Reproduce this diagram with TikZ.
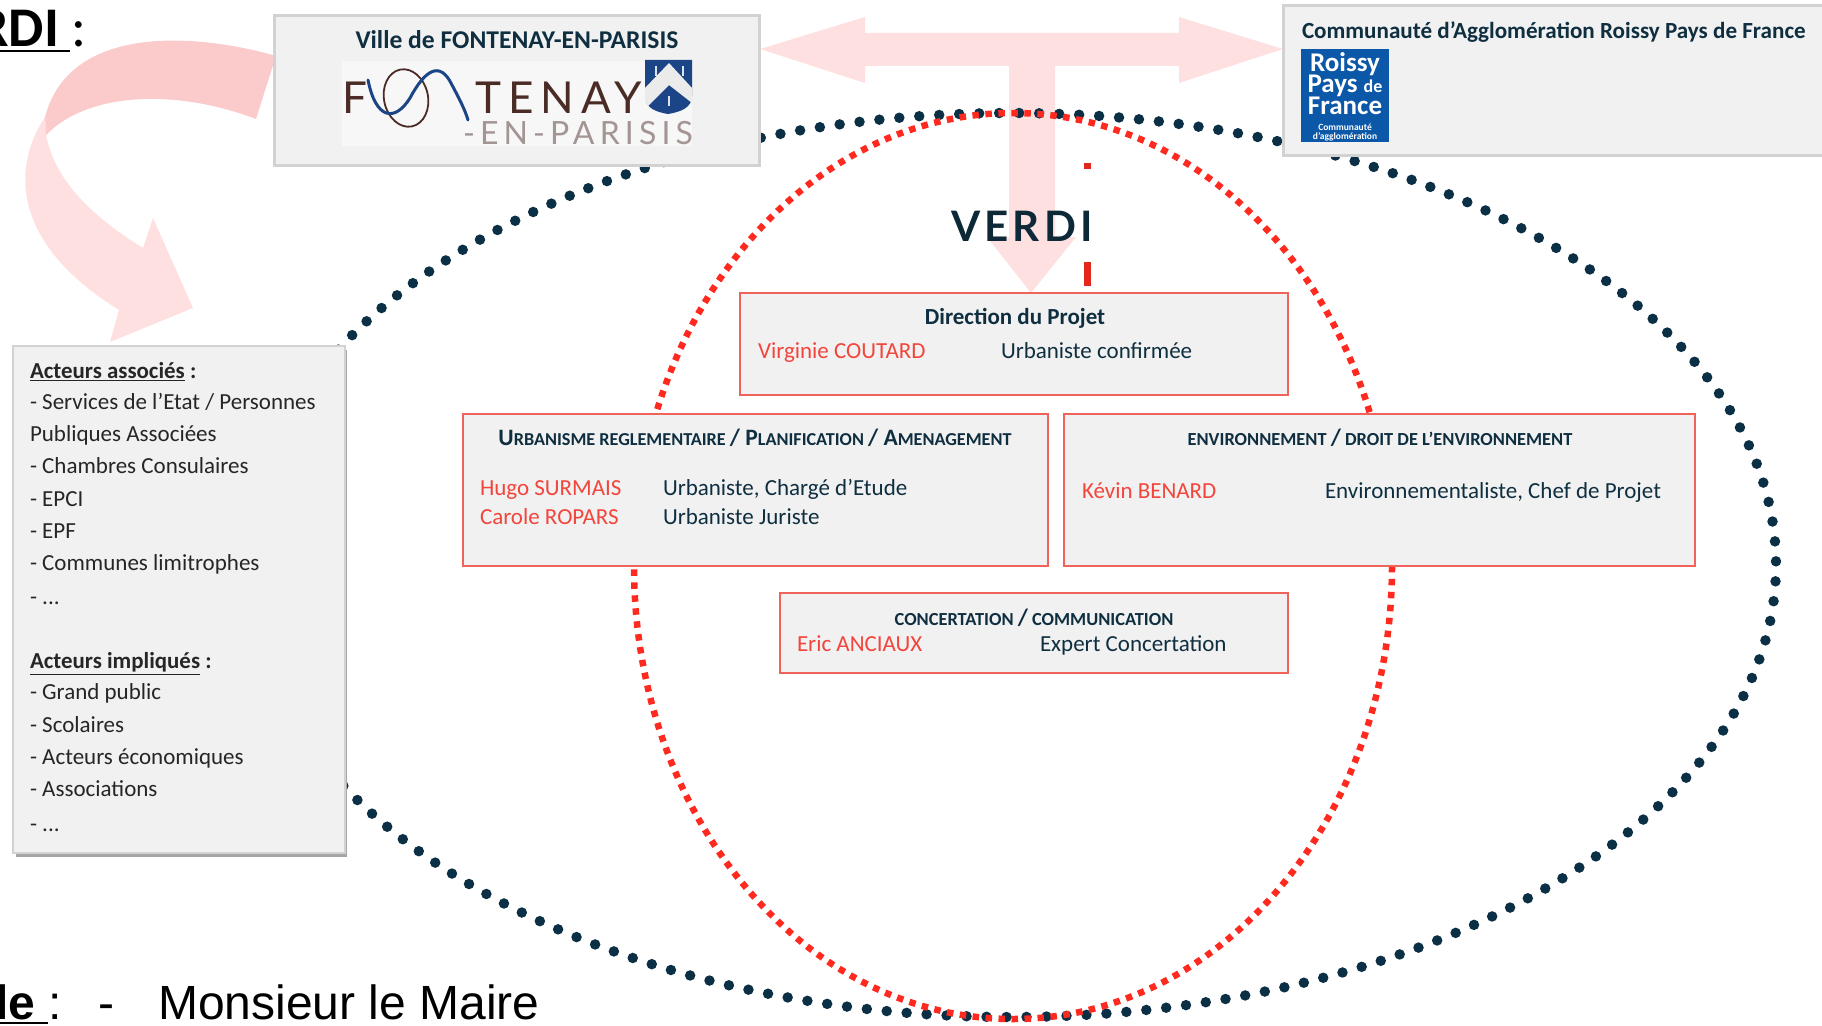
\documentclass[tikz,border=0pt]{standalone}
\usepackage{fontspec}
\setmainfont{Carlito}
\newfontfamily\arialf{Liberation Sans}
\newfontfamily\latof{Lato}
\newfontfamily\logof[LetterSpace=16]{Lato}
\newfontfamily\verdif[LetterSpace=10]{Lato}
\usetikzlibrary{calc}
\definecolor{inkdark}{HTML}{0F2F40}
\definecolor{dotdark}{HTML}{0B2F45}
\definecolor{redtxt}{HTML}{F2453C}
\definecolor{redline}{HTML}{F0635A}
\definecolor{reddash}{HTML}{FF2A1F}
\definecolor{pinkA}{HTML}{FFE0E0}
\definecolor{pinkB}{HTML}{FBCACA}
\definecolor{boxfill}{HTML}{F1F1F1}
\definecolor{boxline}{HTML}{D2D2D2}
\definecolor{logobrown}{HTML}{4A2B26}
\definecolor{logogrey}{HTML}{A39593}
\definecolor{logoblue}{HTML}{1B4586}
\definecolor{rblue}{HTML}{0B57A8}
\newcommand{\fs}[1]{\fontsize{#1}{#1}\selectfont}
\tikzset{
  t/.style={inner sep=0pt,outer sep=0pt,anchor=mid west,yshift=-5.5pt,font=\fs{23},text=inkdark},
  tc/.style={t,anchor=mid},
  nm/.style={t,text=redtxt},
  ac/.style={t,text=black!85,font=\fs{23}},
  redbox/.style={draw=redline,fill=boxfill,line width=2pt},
  greybox/.style={draw=boxline,fill=boxfill,line width=3pt},
}
\begin{document}
\begin{tikzpicture}[x=1pt,y=-1pt]
\useasboundingbox (0,0) rectangle (1822,1025);
\clip (0,0) rectangle (1822,1025);
% curved arrow
\fill[pinkA] (45,117) .. controls (10,170) and (14,245) .. (119,310) -- (110,342) -- (193,308) -- (153,218) -- (143,248) .. controls (90,215) and (55,180) .. (46,135) -- cycle;
\fill[pinkB] (276,56) .. controls (200,34) and (70,22) .. (45,117) -- (46,135) .. controls (90,90) and (180,90) .. (256,119) -- cycle;
% T arrow
\fill[pinkA] (760,49) -- (865,17) -- (865,33) -- (1179,33) -- (1179,17) -- (1283,49) -- (1179,83) -- (1179,66) -- (1055,66) -- (1055,237) -- (1076,237) -- (1031,293) -- (987,237) -- (1009,237) -- (1009,66) -- (865,66) -- (865,83) -- cycle;
% ellipses
\draw[dotdark,line width=10.5pt,line cap=round,dash pattern=on 0pt off 20pt] (246,565) arc [start angle=180,end angle=-180,x radius=765pt,y radius=452pt];
\draw[reddash,line width=6.5pt,dash pattern=on 6.5pt off 6.5pt] (1013,566) ellipse [x radius=379pt,y radius=453pt];
% VERDI
\node[tc,font=\verdif\bfseries\fs{42},text=inkdark!85!black] (verdi) at (1022,233.5) {VERDI};
\fill[reddash!90!black] (1083.5,163) rectangle (1090.5,169);
\fill[reddash!90!black] (1083.5,262) rectangle (1090.5,286);
% top boxes
\draw[greybox] (274,16) rectangle (759,165);
\node[tc,font=\bfseries\fs{25.6}] (ville) at (517,41) {Ville de FONTENAY-EN-PARISIS};
\fill[black!3] (342,61) rectangle (692,146);
% Fontenay logo
\node[t,font=\logof\fs{44},text=logobrown] (logoF) at (342,106) {F};
\draw[logobrown,line width=1.8pt,rotate around={12:(406,98)}] (406,98) ellipse [x radius=22pt,y radius=29pt];
\draw[logoblue,line width=3pt,line cap=round] (368,80) .. controls (376,120) and (395,122) .. (410,98) .. controls (425,70) and (440,60) .. (452,85) .. controls (460,100) and (465,110) .. (468,120);
\node[t,font=\logof\fs{44},text=logobrown] (logoT) at (475,106) {TENAY};
\node[t,font=\logof\fs{32},text=logogrey] (logoP) at (463,137) {-EN-PARISIS};
\fill[logoblue] (645,60) -- (692,60) -- (692,96) .. controls (692,108) and (680,112) .. (668,114) .. controls (656,112) and (645,108) .. (645,96) -- cycle;
\fill[white!92!black] (669,63) -- (692,88) -- (692,103) -- (669,85) -- (648,106) -- (645,100) -- (645,88) -- cycle;
\fill[white!85!logoblue] (655,66) rectangle (657,76);
\fill[white!85!logoblue] (682,66) rectangle (684,76);
\fill[white!85!logoblue] (668,96) rectangle (670,106);
% Communaute box
\draw[greybox] (1283,6) rectangle (1835,155);
\node[t,font=\bfseries\fs{23.1}] (cara) at (1302,31) {Communauté d’Agglomération Roissy Pays de France};
\fill[rblue] (1301,49) rectangle (1389,142);
\node[t,anchor=mid,text=white,font=\bfseries\fs{27}] (r1) at (1345,64) {Roissy};
\node[t,anchor=mid,text=white,font=\bfseries\fs{27}] (r2) at (1345,85) {Pays {\fs{18}de}};
\node[t,anchor=mid,text=white,font=\bfseries\fs{27}] (r3) at (1345,107) {France};
\node[t,anchor=mid,text=white,font=\bfseries\fs{9.5}] (r4) at (1345,123) {Communauté};
\node[t,anchor=mid,text=white,font=\bfseries\fs{9.5}] (r5) at (1345,132) {d’agglomération};
% Direction
\draw[redbox] (740,293) rectangle (1288,395);
\node[tc,font=\bfseries\fs{23}] (dir) at (1015,317) {Direction du Projet};
\node[nm] (virg) at (758,351) {Virginie COUTARD};
\node[t] (virgr) at (1001,351) {Urbaniste confirmée};
% Urbanisme
\draw[redbox] (463,414) rectangle (1048,566);
\node[tc,font=\bfseries\fs{18.2}] (urb) at (755,438) {{\fs{23.5}U}RBANISME REGLEMENTAIRE {\fs{23.5}/ P}LANIFICATION {\fs{23.5}/ A}MENAGEMENT};
\node[nm] (hugo) at (480,488) {Hugo SURMAIS};
\node[t] (hugor) at (663,488) {Urbaniste, Chargé d’Etude};
\node[nm] (carole) at (480,517) {Carole ROPARS};
\node[t] (caroler) at (663,517) {Urbaniste Juriste};
% Environnement
\draw[redbox] (1064,414) rectangle (1695,566);
\node[tc,font=\bfseries\fs{18.4}] (env) at (1380,438) {ENVIRONNEMENT {\fs{23.5}/} DROIT DE L’ENVIRONNEMENT};
\node[nm] (kevin) at (1082,491) {Kévin BENARD};
\node[t] (kevinr) at (1325,491) {Environnementaliste, Chef de Projet};
% Concertation
\draw[redbox] (780,593) rectangle (1288,673);
\node[tc,font=\bfseries\fs{18.4}] (conc) at (1034,618) {CONCERTATION {\fs{23.5}/} COMMUNICATION};
\node[nm] (eric) at (797,644) {Eric ANCIAUX};
\node[t] (ericr) at (1040,644) {Expert Concertation};
% Acteurs
\fill[black!35] (16,350) rectangle (347,857);
\draw[boxline,fill=boxfill,line width=2pt] (13,346) rectangle (345,853);
\node[ac,font=\bfseries\fs{22.9}] (a0) at (30,371) {\underline{Acteurs associés}\ :};
\node[ac] (a1) at (30,402) {- Services de l’Etat / Personnes};
\node[ac] (a2) at (30,434) {Publiques Associées};
\node[ac] (a3) at (30,466) {- Chambres Consulaires};
\node[ac] (a4) at (30,499) {- EPCI};
\node[ac] (a5) at (30,531) {- EPF};
\node[ac] (a6) at (30,563) {- Communes limitrophes};
\node[ac] (a7) at (30,597) {- ...};
\node[ac,font=\bfseries\fs{22.9}] (b0) at (30,661) {\underline{Acteurs impliqués}\ :};
\node[ac] (b1) at (30,692) {- Grand public};
\node[ac] (b2) at (30,725) {- Scolaires};
\node[ac] (b3) at (30,757) {- Acteurs économiques};
\node[ac] (b4) at (30,789) {- Associations};
\node[ac] (b5) at (30,824) {- ...};
% clipped page text
\node[inner sep=0pt,anchor=base west,font=\fs{56}] (rdi) at (-23,47) {\textbf{RDI} :};
\draw[black,line width=2pt] (0,51) -- (70,51);
\node[inner sep=0pt,anchor=base west,font=\arialf\fs{48}] (le) at (-5,1019) {\textbf{le}};
\draw[black,line width=2pt] (0,1023) -- (48,1023);
\node[inner sep=0pt,anchor=base west,font=\arialf\fs{48}] (lec) at (48,1019) {:};
\node[inner sep=0pt,anchor=base west,font=\arialf\fs{48}] (led) at (98,1019) {-};
\node[inner sep=0pt,anchor=base west,font=\arialf\fs{48}] (maire) at (158,1019) {Monsieur le Maire};
\end{tikzpicture}
\end{document}
